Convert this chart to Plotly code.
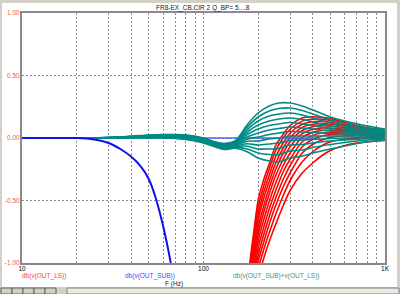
import plotly.graph_objects as go

# ---------------- data ----------------
# db(v(OUT_SUB)) - low-pass roll-off
blue_f = [10, 15, 20, 25, 30, 35, 40, 45, 50, 54, 58, 62, 66, 70]
blue_db = [0, 0, 0, -0.012, -0.04, -0.09, -0.15, -0.225, -0.33, -0.46, -0.62, -0.80, -1.0, -1.22]
blue_flat_f = [89, 420]
blue_flat_db = [0, 0]

# db(v(OUT_LS)) - one row per Q_BP step
red_f = [170, 180, 190, 200, 215, 230, 250, 275, 300, 350, 400, 450, 500, 600, 750, 1000]
red_db = [
    [-1.40, -1.00, -0.73, -0.50, -0.33, -0.21, -0.06, 0.03, 0.10, 0.16, 0.17, 0.165, 0.155, 0.125, 0.09, 0.06],
    [-1.44, -1.05, -0.78, -0.56, -0.38, -0.25, -0.10, 0.00, 0.07, 0.135, 0.15, 0.15, 0.14, 0.115, 0.082, 0.055],
    [-1.48, -1.10, -0.83, -0.61, -0.43, -0.30, -0.15, -0.04, 0.04, 0.11, 0.13, 0.133, 0.126, 0.104, 0.075, 0.05],
    [-1.52, -1.14, -0.88, -0.66, -0.48, -0.35, -0.20, -0.08, 0.005, 0.085, 0.11, 0.115, 0.11, 0.093, 0.068, 0.045],
    [-1.56, -1.19, -0.93, -0.72, -0.54, -0.40, -0.25, -0.12, -0.03, 0.06, 0.09, 0.098, 0.095, 0.082, 0.06, 0.04],
    [-1.60, -1.23, -0.98, -0.77, -0.59, -0.45, -0.30, -0.17, -0.07, 0.035, 0.07, 0.08, 0.08, 0.07, 0.052, 0.034],
    [-1.64, -1.28, -1.03, -0.82, -0.65, -0.51, -0.36, -0.22, -0.12, 0.005, 0.045, 0.06, 0.063, 0.058, 0.044, 0.028],
    [-1.68, -1.32, -1.08, -0.88, -0.71, -0.57, -0.42, -0.27, -0.17, -0.03, 0.02, 0.04, 0.046, 0.045, 0.036, 0.022],
    [-1.72, -1.37, -1.13, -0.94, -0.77, -0.63, -0.48, -0.33, -0.22, -0.07, -0.01, 0.015, 0.027, 0.032, 0.027, 0.016],
    [-1.76, -1.41, -1.18, -0.99, -0.83, -0.69, -0.54, -0.39, -0.28, -0.12, -0.05, -0.015, 0.005, 0.016, 0.017, 0.01],
    [-1.80, -1.46, -1.23, -1.05, -0.89, -0.76, -0.61, -0.46, -0.34, -0.19, -0.11, -0.06, -0.03, -0.01, 0.0, 0.003],
    [-1.85, -1.52, -1.30, -1.12, -0.96, -0.83, -0.69, -0.54, -0.42, -0.28, -0.20, -0.14, -0.10, -0.06, -0.035, -0.02],
]

# db(v(OUT_SUB)+v(OUT_LS)) - rows: one per frequency, columns: Q_BP steps
teal_f = [10, 20, 30, 40, 50, 60, 70, 80, 90, 100, 115, 130, 150, 175, 200, 230, 260, 300, 350, 400, 500, 600, 750, 1000]
teal_rows = [
    [0, 0, 0, 0, 0, 0, 0, 0, 0, 0, 0, 0],
    [0, 0, 0, 0, 0, 0, 0, 0, 0, 0, 0, 0],
    [0.004, 0.004, 0.003, 0.003, 0.003, 0.002, 0.002, 0.001, 0.001, 0.001, 0.0, 0.0],
    [0.014, 0.013, 0.012, 0.011, 0.010, 0.008, 0.007, 0.005, 0.004, 0.003, 0.001, 0.0],
    [0.024, 0.022, 0.020, 0.018, 0.016, 0.014, 0.012, 0.010, 0.007, 0.005, 0.003, 0.0],
    [0.028, 0.026, 0.023, 0.021, 0.018, 0.016, 0.013, 0.010, 0.008, 0.005, 0.003, 0.0],
    [0.028, 0.025, 0.023, 0.020, 0.018, 0.015, 0.012, 0.009, 0.006, 0.003, 0.000, -0.004],
    [0.024, 0.021, 0.018, 0.015, 0.012, 0.008, 0.005, 0.002, -0.002, -0.005, -0.008, -0.012],
    [0.014, 0.011, 0.008, 0.005, 0.002, -0.002, -0.005, -0.009, -0.012, -0.016, -0.020, -0.024],
    [0.000, -0.004, -0.008, -0.011, -0.015, -0.018, -0.022, -0.025, -0.029, -0.032, -0.036, -0.040],
    [-0.030, -0.033, -0.036, -0.040, -0.043, -0.046, -0.050, -0.053, -0.056, -0.060, -0.064, -0.070],
    [-0.044, -0.048, -0.052, -0.056, -0.060, -0.064, -0.068, -0.072, -0.076, -0.082, -0.086, -0.092],
    [-0.020, -0.026, -0.032, -0.037, -0.042, -0.047, -0.052, -0.057, -0.063, -0.068, -0.075, -0.082],
    [0.110, 0.090, 0.070, 0.050, 0.030, 0.010, -0.008, -0.026, -0.046, -0.066, -0.088, -0.112],
    [0.200, 0.168, 0.136, 0.104, 0.072, 0.040, 0.008, -0.024, -0.056, -0.088, -0.120, -0.160],
    [0.256, 0.216, 0.176, 0.136, 0.100, 0.064, 0.028, -0.008, -0.048, -0.088, -0.132, -0.184],
    [0.280, 0.236, 0.192, 0.152, 0.112, 0.076, 0.040, 0.000, -0.040, -0.084, -0.132, -0.192],
    [0.280, 0.240, 0.200, 0.160, 0.124, 0.088, 0.052, 0.016, -0.020, -0.056, -0.104, -0.160],
    [0.256, 0.220, 0.184, 0.148, 0.112, 0.080, 0.048, 0.016, -0.016, -0.052, -0.096, -0.144],
    [0.224, 0.192, 0.160, 0.128, 0.100, 0.072, 0.044, 0.016, -0.012, -0.040, -0.076, -0.120],
    [0.168, 0.144, 0.120, 0.096, 0.076, 0.056, 0.036, 0.016, -0.004, -0.024, -0.052, -0.088],
    [0.136, 0.116, 0.096, 0.080, 0.064, 0.048, 0.032, 0.016, 0.000, -0.016, -0.036, -0.064],
    [0.104, 0.088, 0.076, 0.064, 0.052, 0.040, 0.028, 0.016, 0.004, -0.008, -0.020, -0.036],
    [0.072, 0.064, 0.056, 0.048, 0.040, 0.032, 0.024, 0.016, 0.008, 0.000, -0.008, -0.016],
]

x_tick_vals = [10, 20, 30, 40, 50, 60, 70, 80, 90, 100, 200, 300, 400, 500, 600, 700, 800, 900, 1000]
x_tick_text = ["10", "", "", "", "", "", "", "", "", "100", "", "", "", "", "", "", "", "", "1K"]
y_tick_vals = [-1, -0.5, 0, 0.5, 1]
y_tick_text = ["-1.00", "-0.50", "0.00", "0.50", "1.00"]

title_text = "FR8-EX_CB.CIR 2 Q_BP= 5....8"
legend_texts = ["db(v(OUT_LS))", "db(v(OUT_SUB))", "db(v(OUT_SUB)+v(OUT_LS))"]
x_title = "F (Hz)"

RED = "#ff0000"
BLUE = "#1010e8"
BLUE_LIGHT = "#5a5aff"
TEAL = "#008a84"
GRID = "#8c8c8c"
FONT = "Liberation Sans"
FS = 6.5

# ---------------- figure ----------------
fig = go.Figure()

for row in red_db:
    fig.add_trace(go.Scatter(x=red_f, y=row, mode="lines",
                             line=dict(color=RED, width=1.6, shape="spline", smoothing=0.8),
                             hoverinfo="skip", showlegend=False))

fig.add_trace(go.Scatter(x=blue_flat_f, y=blue_flat_db, mode="lines",
                         line=dict(color=BLUE_LIGHT, width=1.3),
                         hoverinfo="skip", showlegend=False))

teal_curves = [list(c) for c in zip(*teal_rows)]
for curve in teal_curves:
    fig.add_trace(go.Scatter(x=teal_f, y=curve, mode="lines",
                             line=dict(color=TEAL, width=1.6, shape="spline", smoothing=0.8),
                             hoverinfo="skip", showlegend=False))

fig.add_trace(go.Scatter(x=blue_f, y=blue_db, mode="lines",
                         line=dict(color=BLUE, width=2, shape="spline", smoothing=1.0),
                         hoverinfo="skip", showlegend=False))

L, R, T, B = 22, 15, 13, 31
W, H = 400, 294
pw, ph = W - L - R, H - T - B


def px(x):
    return (x - L) / pw


def py(y):
    return (H - B - y) / ph


fig.update_layout(
    width=W, height=H,
    margin=dict(l=L, r=R, t=T, b=B, autoexpand=False),
    paper_bgcolor="white", plot_bgcolor="white",
    font=dict(family=FONT, size=FS, color="black"),
    showlegend=False,
    xaxis=dict(type="log", range=[1, 3], tickvals=x_tick_vals, ticktext=x_tick_text,
               showgrid=True, gridcolor=GRID, griddash="2px,2px", gridwidth=1,
               showline=True, linecolor="#8a8a8a", linewidth=2, mirror=True,
               ticks="", zeroline=False, automargin=False, ticklabelstandoff=-2,
               tickfont=dict(size=FS, color="black")),
    yaxis=dict(range=[-1, 1], tickvals=y_tick_vals, ticktext=y_tick_text,
               showgrid=True, gridcolor=GRID, griddash="2px,2px", gridwidth=1,
               showline=True, linecolor="#8a8a8a", linewidth=2, mirror=True,
               ticks="", zeroline=False, automargin=False, ticklabelstandoff=-1,
               tickfont=dict(size=FS, color="#ff5050")),
)

ann = [
    dict(text=title_text, x=px(203), y=py(8), font=dict(color="#202020")),
    dict(text=legend_texts[0], x=px(21), y=py(276), xanchor="left", font=dict(color="#ff4040")),
    dict(text=legend_texts[1], x=px(124), y=py(276), xanchor="left", font=dict(color="#4a4aff")),
    dict(text=legend_texts[2], x=px(232), y=py(276), xanchor="left", font=dict(color="#2a9a96")),
    dict(text=x_title, x=px(164), y=py(284), xanchor="left", font=dict(color="#202020")),
]
for a in ann:
    a.setdefault("xanchor", "center")
    fig.add_annotation(xref="paper", yref="paper", yanchor="middle", showarrow=False,
                       borderpad=0, font=dict(family=FONT, size=FS, **a.pop("font")), **a)

# window chrome
shapes = [
    dict(x0=px(0), x1=px(400), y0=py(0), y1=py(3), fillcolor="#d4d0c8", line=dict(width=0)),
    dict(x0=px(0), x1=px(2), y0=py(0), y1=py(294), fillcolor="#d4d0c8", line=dict(width=0)),
    dict(x0=px(397), x1=px(400), y0=py(0), y1=py(294), fillcolor="#d4d0c8", line=dict(width=0)),
    dict(x0=px(0), x1=px(400), y0=py(287), y1=py(294), fillcolor="#d4d0c8", line=dict(width=0)),
    dict(x0=px(67), x1=px(399), y0=py(288), y1=py(294), fillcolor="#ece9e2", line=dict(color="#808080", width=1)),
]
for i in range(5):
    shapes.append(dict(x0=px(1 + 11 * i), x1=px(12 + 11 * i), y0=py(288), y1=py(294),
                       fillcolor="#d4d0c8", line=dict(color="#606060", width=1)))
for s in shapes:
    fig.add_shape(type="rect", xref="paper", yref="paper", layer="above", **s)

fig.write_html("out.html")
